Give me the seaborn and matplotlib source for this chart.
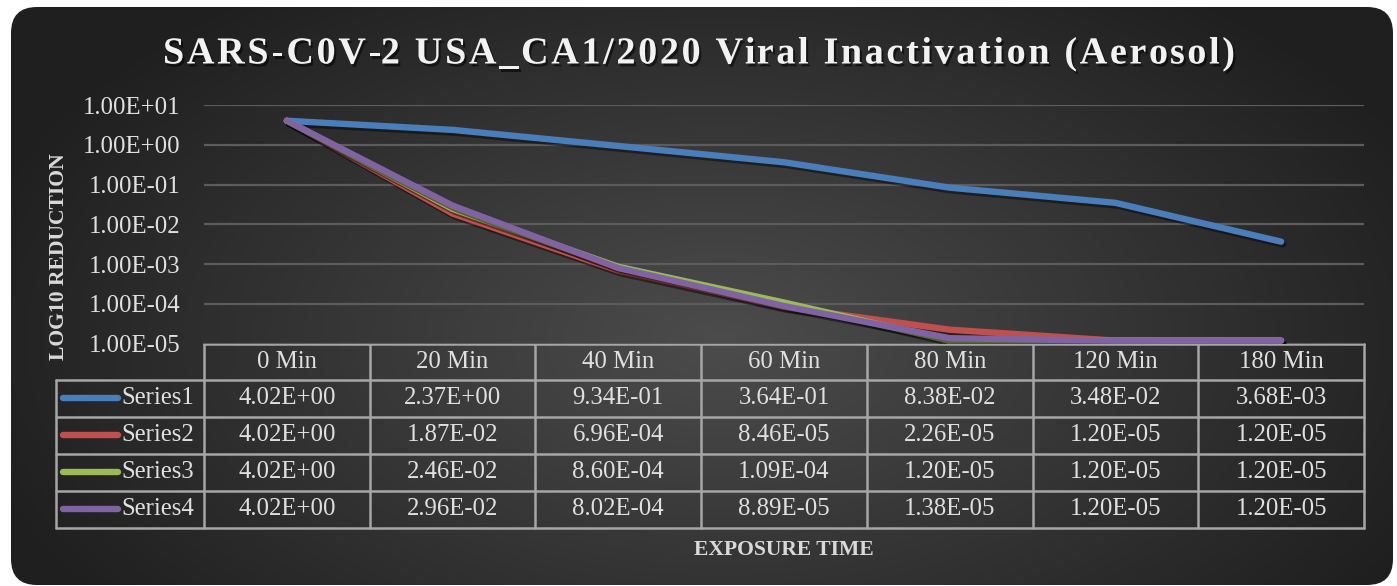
import numpy as np
import pandas as pd
import matplotlib
matplotlib.use("Agg")
import matplotlib.pyplot as plt
import matplotlib.patheffects as pe
from matplotlib.patches import FancyBboxPatch
from matplotlib.ticker import FuncFormatter, NullLocator
from matplotlib import transforms
import seaborn as sns

# datos
times = ["0 Min", "20 Min", "40 Min", "60 Min", "80 Min", "120 Min", "180 Min"]
series_names = ["Series1", "Series2", "Series3", "Series4"]
series1 = [4.02e0, 2.37e0, 9.34e-1, 3.64e-1, 8.38e-2, 3.48e-2, 3.68e-3]
series2 = [4.02e0, 1.87e-2, 6.96e-4, 8.46e-5, 2.26e-5, 1.20e-5, 1.20e-5]
series3 = [4.02e0, 2.46e-2, 8.60e-4, 1.09e-4, 1.20e-5, 1.20e-5, 1.20e-5]
series4 = [4.02e0, 2.96e-2, 8.02e-4, 8.89e-5, 1.38e-5, 1.20e-5, 1.20e-5]
yticks = [1e-5, 1e-4, 1e-3, 1e-2, 1e-1, 1e0, 1e1]
title_txt = "SARS-C0V-2 USA_CA1/2020 Viral Inactivation (Aerosol)"

colors = ["#4a7ebb", "#c0504d", "#9bbb59", "#8064a2"]
all_series = [series1, series2, series3, series4]

df = pd.DataFrame({
    "pos": np.tile(np.arange(len(times)), len(series_names)),
    "value": np.concatenate(all_series),
    "series": np.repeat(series_names, len(times)),
})

W, H = 1397, 586
sns.set_style("white")
plt.rcParams["font.family"] = ["Liberation Serif", "DejaVu Serif"]
txt_col = "#e0e0e0"
border_col = "#a6a6a6"
fs = 17.8

fig = plt.figure(figsize=(W / 100, H / 100), dpi=100, facecolor="white")

# fondo con degradado radial y esquinas redondeadas
bg = fig.add_axes([0, 0, 1, 1], zorder=0)
bg.set_xlim(0, W)
bg.set_ylim(H, 0)
bg.axis("off")
yy, xx = np.mgrid[0:H, 0:W]
r = np.sqrt(((xx - 720) / 780) ** 2 + ((yy - 340) / 440) ** 2)
t = np.clip(r, 0, 1)[..., None]
inner = np.array([0x4c, 0x4c, 0x4c]) / 255
outer = np.array([0x1f, 0x1f, 0x1f]) / 255
img = inner * (1 - t) + outer * t
panel = FancyBboxPatch((11, 7), 1382, 578, boxstyle="round,pad=0,rounding_size=26",
                       transform=bg.transData, facecolor="none", edgecolor="none")
bg.add_patch(panel)
im = bg.imshow(img, extent=(0, W, H, 0), aspect="auto", interpolation="bilinear")
im.set_clip_path(panel)

# grafico principal
ax_top, ax_bot, ax_l, ax_r = 105, 343.8, 204, 1364
ax = fig.add_axes([ax_l / W, (H - ax_bot) / H, (ax_r - ax_l) / W, (ax_bot - ax_top) / H], zorder=1)
ax.set_facecolor("none")
sns.lineplot(data=df, x="pos", y="value", hue="series", palette=colors,
             linewidth=4.6, legend=False, sort=False, ax=ax)
for ln in ax.lines:
    ln.set_solid_capstyle("round")
    ln.set_solid_joinstyle("round")
    ln.set_path_effects([pe.SimpleLineShadow(offset=(1.5, -2), shadow_color="black", alpha=0.45),
                         pe.Normal()])
ax.set_yscale("log")
ax.set_ylim(1e-5, 1e1)
ax.set_xlim(-0.5, len(times) - 0.5)
ax.set_yticks(yticks)
ax.yaxis.set_minor_locator(NullLocator())
ax.yaxis.set_major_formatter(FuncFormatter(lambda v, p: f"{v:.2E}"))
ax.set_xticks([])
ax.tick_params(axis="y", length=0, pad=17.3, labelsize=fs, labelcolor=txt_col)
ax.grid(axis="y", color="#5c5c5c", linewidth=1.6)
ax.set_axisbelow(True)
for s in ax.spines.values():
    s.set_visible(False)
ax.set_xlabel("")
ax.set_ylabel("")

# tabla de datos
trans = transforms.blended_transform_factory(ax.transData, bg.transData)
row_edges = [343.8, 379.5, 416.5, 453.5, 490.5, 527.5]
legend_left = 56
lkw = dict(color=border_col, linewidth=1.8, zorder=3)
bg.plot([ax_l, ax_r], [row_edges[0], row_edges[0]], **lkw)
for yv in row_edges[1:]:
    bg.plot([legend_left, ax_r], [yv, yv], **lkw)
bg.plot([legend_left, legend_left], [row_edges[1], row_edges[-1]], **lkw)
for i in range(len(times) + 1):
    bg.plot([i - 0.5, i - 0.5], [row_edges[0], row_edges[-1]], transform=trans, **lkw)

hy = (row_edges[0] + row_edges[1]) / 2
for i, lab in enumerate(times):
    bg.text(i, hy, lab, transform=trans, ha="center", va="center", fontsize=fs, color=txt_col, zorder=4)

for k, (name, vals) in enumerate(zip(series_names, all_series)):
    cy = (row_edges[k + 1] + row_edges[k + 2]) / 2
    bg.plot([63, 118], [cy, cy], color=colors[k], linewidth=4.6, solid_capstyle="round", zorder=4)
    bg.text(121, cy, name, ha="left", va="center", fontsize=fs, color=txt_col, zorder=4)
    for i, v in enumerate(vals):
        bg.text(i, cy, f"{v:.2E}", transform=trans, ha="center", va="center",
                fontsize=fs, color=txt_col, zorder=4)

# titulo con espaciado entre letras
tkw = dict(fontsize=27.5, fontweight="bold")
renderer = fig.canvas.get_renderer()
def text_w(s):
    tt = bg.text(0, 0, s, **tkw)
    w = tt.get_window_extent(renderer).width
    tt.remove()
    return w
bar_w = text_w("|")
offsets = [text_w(title_txt[:i] + "|") - bar_w if i > 0 else 0 for i in range(len(title_txt))]
natural = offsets[-1] + text_w(title_txt[-1])
title_left, title_right = 163, 1235
spacing = (title_right - title_left - natural) / (len(title_txt) - 1)
for i, ch in enumerate(title_txt):
    if ch == " ":
        continue
    c = bg.text(title_left + offsets[i] + i * spacing, 63.5, ch, ha="left", va="baseline",
                color="#f2f2f2", zorder=5, **tkw)
    c.set_path_effects([pe.SimplePatchShadow(offset=(1.5, -2), shadow_rgbFace="black", alpha=0.55),
                        pe.Normal()])

bg.text(783.5, 555, "EXPOSURE TIME", ha="center", va="baseline", fontsize=15.6,
        fontweight="bold", color="#d9d9d9", zorder=5)
bg.text(59, 257, "LOG10 REDUCTION", ha="center", va="center", rotation=90,
        fontsize=15.6, fontweight="bold", color="#d9d9d9", zorder=5)

fig.savefig("out.png", dpi=100, facecolor="white")
